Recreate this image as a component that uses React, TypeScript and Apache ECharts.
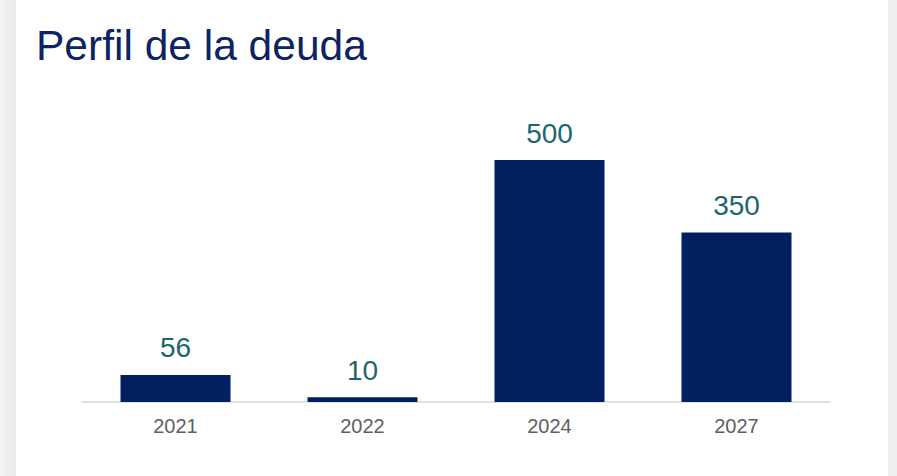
import React, { useEffect, useRef } from "react";
import * as echarts from "echarts";

const categories = ["2021", "2022", "2024", "2027"];
const values = [56, 10, 500, 350];
const title = "Perfil de la deuda";

export default function App() {
  const ref = useRef<HTMLDivElement>(null);
  useEffect(() => {
    if (!ref.current) return;
    const chart = echarts.init(ref.current, undefined, { renderer: "svg" });
    chart.setOption({
      animation: false,
      title: {
        text: title,
        left: 31,
        top: 19,
        textStyle: {
          fontFamily: "Liberation Sans, Arial, sans-serif",
          fontSize: 42.5,
          fontWeight: "normal",
          color: "#0c2461",
        },
      },
      grid: { left: 82, right: 67, top: 160, bottom: 74 },
      xAxis: {
        type: "category",
        data: categories,
        axisLine: { show: true, lineStyle: { color: "#e2e2e2", width: 2 } },
        axisTick: { show: false },
        axisLabel: {
          margin: 14,
          fontFamily: "Liberation Sans, Arial, sans-serif",
          fontSize: 20,
          color: "#5f5f5f",
        },
      },
      yAxis: {
        type: "value",
        min: 0,
        max: 500,
        show: false,
        splitLine: { show: false },
      },
      series: [
        {
          type: "bar",
          data: values,
          barWidth: 110,
          itemStyle: { color: "#002060" },
          label: {
            show: true,
            position: "top",
            distance: 13,
            fontFamily: "Liberation Sans, Arial, sans-serif",
            fontSize: 28,
            color: "#1d6670",
          },
        },
      ],
    });
    return () => chart.dispose();
  }, []);
  return (
    <div
      style={{
        position: "fixed",
        left: 0,
        top: 0,
        width: 897,
        height: 476,
        background: "linear-gradient(to right, #f5f6f7 0px, #eeeff0 6px, #e9eaeb 16px)",
        overflow: "hidden",
      }}
    >
      <div
        style={{
          position: "absolute",
          left: 16,
          top: 0,
          width: 872,
          height: 476,
          background: "#ffffff",
        }}
      />
      <div
        style={{
          position: "absolute",
          left: 888,
          top: 0,
          width: 9,
          height: 476,
          background: "#eeeff0",
        }}
      />
      <div
        ref={ref}
        style={{ position: "absolute", left: 0, top: 0, width: 897, height: 476 }}
      />
    </div>
  );
}
